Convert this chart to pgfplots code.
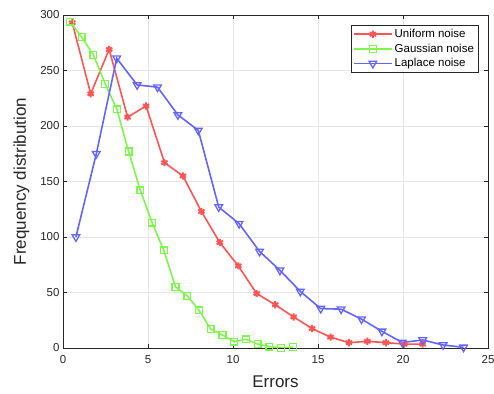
\documentclass[border=0pt]{standalone}
\usepackage{fontspec}
\setmainfont{Liberation Sans}
\usepackage{pgfplots}
\pgfplotsset{compat=1.18}
\definecolor{cred}{RGB}{255,85,85}
\definecolor{cgreen}{RGB}{128,245,80}
\definecolor{cblue}{RGB}{100,100,255}
\definecolor{axgray}{RGB}{38,38,38}
\begin{document}
\begin{tikzpicture}
\begin{axis}[
  name=ax,
  scale only axis,
  width=425pt, height=333pt,
  xmin=0, xmax=25, ymin=0, ymax=300,
  xtick={0,5,...,25}, ytick={0,50,...,300},
  grid=major,
  major grid style={draw=black!10, line width=0.6pt},
  axis line style={draw=axgray, line width=0.6pt},
  tick style={draw=axgray, line width=0.6pt},
  tick align=inside,
  major tick length=4pt,
  ticklabel style={font=\fontsize{11.5}{13}\selectfont, text=axgray},
  xticklabel style={yshift=-4pt},
  /pgf/number format/assume math mode=true,
  xlabel={Errors}, ylabel={Frequency distribution},
  label style={font=\fontsize{17}{19}\selectfont, text=axgray},
  xlabel style={yshift=-5pt},
  ylabel style={yshift=4pt},
  legend style={at={(0.977,0.97)}, anchor=north east, draw=axgray, line width=0.6pt,
    font=\fontsize{11.5}{13}\selectfont, row sep=0.8pt, inner sep=2pt,
    cells={anchor=west}},
  legend cell align=left,
  legend image code/.code={\draw[mark repeat=2,mark phase=2] plot coordinates {(0pt,0pt)(19pt,0pt)(38pt,0pt)};},
]
\addplot[cred, line width=1.6pt, mark=asterisk, mark size=3.6pt, mark options={line width=2pt}] coordinates {
(0.545,293) (1.63,229) (2.715,269) (3.80,208) (4.885,218) (5.97,167) (7.055,155) (8.14,123) (9.225,95) (10.31,74)
(11.395,49) (12.48,39) (13.565,28) (14.65,17.5) (15.735,9.8) (16.82,4.8) (17.905,6) (18.99,4.8) (20.075,3.5) (21.16,3.5)};
\addlegendentry{Uniform noise}
\addplot[cgreen, line width=1.6pt, mark=square, mark size=3.4pt, mark options={line width=1.3pt}] coordinates {
(0.41,294) (1.10,280) (1.79,264) (2.48,238) (3.17,215) (3.86,177) (4.55,142) (5.24,113) (5.93,88) (6.62,55)
(7.31,47) (8.00,34) (8.69,17) (9.38,11.6) (10.07,5.8) (10.76,7.8) (11.45,3.5) (12.14,1.3) (12.83,0) (13.52,0.8)};
\addlegendentry{Gaussian noise}
\addplot[cblue, line width=1.6pt, mark=triangle, mark size=4.4pt, mark options={rotate=180, line width=1.3pt}] coordinates {
(0.76,100) (1.96,175) (3.16,261) (4.36,237) (5.56,235) (6.76,210) (7.96,196) (9.16,127) (10.36,112) (11.56,87)
(12.76,70) (13.96,51) (15.16,35.5) (16.36,35) (17.56,26) (18.76,15) (19.96,5) (21.16,7.2) (22.36,2.7) (23.56,0.6)};
\addlegendentry{Laplace noise}
\end{axis}
\pgfresetboundingbox
\path ([xshift=-63pt,yshift=-46pt]ax.south west) rectangle ([xshift=6pt,yshift=15pt]ax.north east);
\end{tikzpicture}
\end{document}
